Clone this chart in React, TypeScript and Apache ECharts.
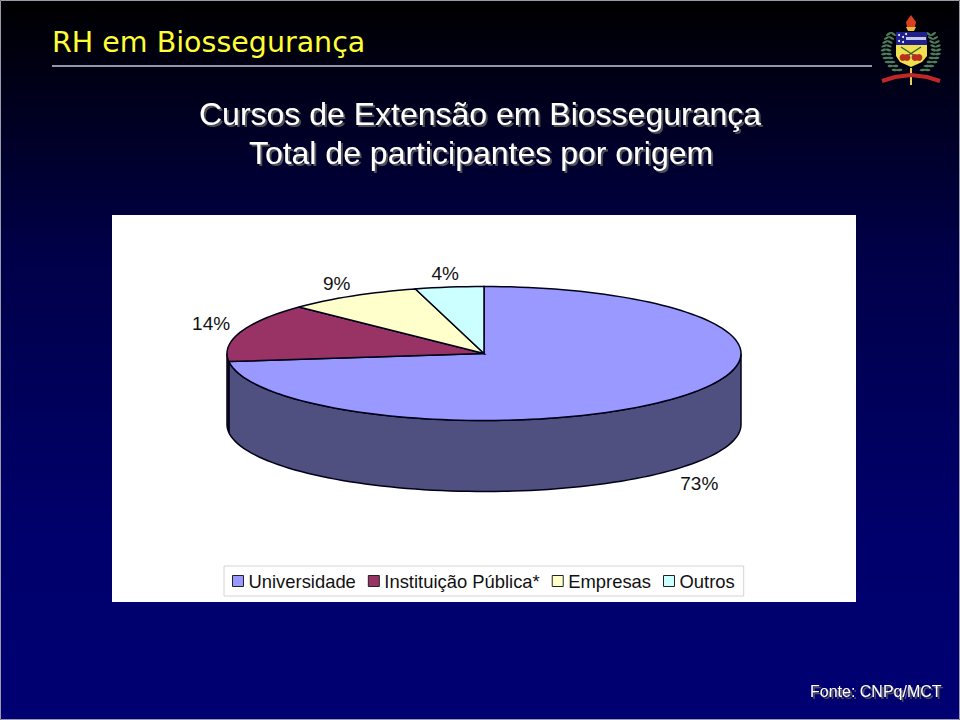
import React, { useEffect, useRef } from "react";
import * as echarts from "echarts";

const categories = ["Universidade", "Instituição Pública*", "Empresas", "Outros"];
const values = [73.1, 14.1, 8.5, 4.3];
const topColors = ["#9999FF", "#993366", "#FFFFCC", "#CCFFFF"];
const wallColors = ["#4F4F80", "#4D1A33", "#808066", "#668080"];
const headerLines = ["Cursos de Extensão em Biossegurança", "Total de participantes por origem"];
const pageTitle = "RH em Biossegurança";
const sourceNote = "Fonte: CNPq/MCT";

const CX = 484, CY = 353.5, RX = 257, RY = 67, DEPTH = 71;
const total = values.reduce((a, b) => a + b, 0);

function pt(deg: number, dy = 0): number[] {
  const r = (deg * Math.PI) / 180;
  return [CX + RX * Math.sin(r), CY - RY * Math.cos(r) + dy];
}

function arcPts(a: number, b: number, dy = 0): number[][] {
  const out: number[][] = [];
  const n = Math.max(2, Math.ceil(Math.abs(b - a) / 2));
  for (let i = 0; i <= n; i++) out.push(pt(a + ((b - a) * i) / n, dy));
  return out;
}

function sliceRenderer(index: number) {
  return (_params: any, api: any) => {
    const value = api.value(0) as number;
    const before = values.slice(0, index).reduce((a, b) => a + b, 0);
    const start = (before / total) * 360;
    const end = start + (value / total) * 360;
    const stroke = "#000018";
    const children: any[] = [];
    const wa = Math.max(start, 90), wb = Math.min(end, 270);
    if (wb > wa) {
      const pts = [...arcPts(wa, wb, 0), ...arcPts(wb, wa, DEPTH)];
      children.push({ type: "polygon", shape: { points: pts }, style: { fill: wallColors[index], stroke, lineWidth: 1.5 } });
    }
    children.push({
      type: "polygon",
      shape: { points: [[CX, CY], ...arcPts(start, end)] },
      style: { fill: topColors[index], stroke, lineWidth: 1.5 },
    });
    const mid = (start + end) / 2;
    const r = (mid * Math.PI) / 180;
    const front = Math.cos(r) < 0;
    const lx = CX + 1.12 * RX * Math.sin(r);
    const ly = CY - 1.12 * RY * Math.cos(r) + (front ? DEPTH + 9 : -6);
    children.push({
      type: "text",
      x: lx,
      y: ly,
      style: {
        text: `${Math.round((value / total) * 100)}%`,
        fill: "#111",
        font: '19px "Liberation Sans", Arial, sans-serif',
        align: "center",
        verticalAlign: "middle",
      },
    });
    return { type: "group", children };
  };
}

const laurelLeft = [
  [891, 34], [889, 38], [887.5, 42], [886.5, 46], [886, 50], [886.5, 54], [888, 58], [890, 62], [893, 66], [897, 70],
];

function crest(): any[] {
  const g: any[] = [];
  const leaf = "#4f7f5a";
  for (const side of [0, 1]) {
    laurelLeft.forEach(([lx, ly], i) => {
      const x = side === 0 ? lx : 2 * 911 - lx;
      const sign = side === 0 ? 1 : -1;
      const tilt = sign * (0.6 - i * 0.08);
      g.push({ type: "ellipse", x: x - 2.4, y: ly, rotation: tilt, shape: { cx: 0, cy: 0, rx: 3, ry: 1.2 }, style: { fill: leaf } });
      g.push({ type: "ellipse", x: x + 2.4, y: ly, rotation: -tilt, shape: { cx: 0, cy: 0, rx: 3, ry: 1.2 }, style: { fill: leaf } });
    });
  }
  g.push({ type: "polygon", shape: { points: [[896, 32], [927, 32], [927, 45], [896, 45]] }, style: { fill: "#20208c" } });
  g.push({ type: "rect", shape: { x: 906, y: 37, width: 20, height: 3 }, style: { fill: "#c8c8e0" } });
  for (const [sx, sy] of [[899, 35], [903, 37], [899, 41], [903, 42], [906, 34]]) {
    g.push({ type: "circle", shape: { cx: sx, cy: sy, r: 1 }, style: { fill: "#fff" } });
  }
  g.push({
    type: "polygon",
    shape: { points: [[896, 45], [927, 45], [927, 56], [922, 62], [911, 67], [900, 62], [896, 56]] },
    style: { fill: "#f0e050" },
  });
  g.push({ type: "line", shape: { x1: 901, y1: 47, x2: 921, y2: 60 }, style: { stroke: "#2f5f3a", lineWidth: 1.4 } });
  g.push({ type: "line", shape: { x1: 921, y1: 47, x2: 901, y2: 60 }, style: { stroke: "#2f5f3a", lineWidth: 1.4 } });
  for (const bx of [903, 907, 915, 919]) {
    g.push({ type: "circle", shape: { cx: bx, cy: 57.5, r: 3.4 }, style: { fill: "#b83020" } });
  }
  g.push({ type: "polygon", shape: { points: [[911, 15], [916, 22], [915, 27], [907, 27], [906, 22]] }, style: { fill: "#d84020" } });
  g.push({ type: "polygon", shape: { points: [[906, 27], [916, 27], [914, 31], [908, 31]] }, style: { fill: "#e8c040" } });
  g.push({ type: "rect", shape: { x: 910, y: 68, width: 2, height: 17 }, style: { fill: "#e8d060" } });
  g.push({
    type: "polyline",
    shape: { points: [[882, 81], [895, 77], [911, 75], [927, 77], [940, 81]] },
    style: { stroke: "#c02828", lineWidth: 4, fill: "none" },
  });
  return g;
}

export default function App() {
  const ref = useRef<HTMLDivElement>(null);
  useEffect(() => {
    document.body.style.margin = "0";
    const chart = echarts.init(ref.current!, undefined, { renderer: "svg" });
    const shadow = { textShadowColor: "rgba(90,90,90,0.9)", textShadowBlur: 1, textShadowOffsetX: 2, textShadowOffsetY: 2 };
    const arial = '"Liberation Sans", Arial, sans-serif';
    chart.setOption({
      animation: false,
      backgroundColor: new echarts.graphic.LinearGradient(0, 0, 0, 1, [
        { offset: 0, color: "#000000" },
        { offset: 0.35, color: "#000048" },
        { offset: 0.75, color: "#00006c" },
        { offset: 1, color: "#000072" },
      ]),
      title: [
        { text: pageTitle, left: 52, top: 28, textStyle: { color: "#FFFF33", fontFamily: "DejaVu Sans", fontSize: 28.5, fontWeight: "normal" }, padding: 0 },
        { text: headerLines[0], left: 480, top: 98, textAlign: "center", padding: 0, textStyle: { color: "#fff", fontFamily: arial, fontSize: 32, fontWeight: "normal", ...shadow } },
        { text: headerLines[1], left: 481, top: 137, textAlign: "center", padding: 0, textStyle: { color: "#fff", fontFamily: arial, fontSize: 32, fontWeight: "normal", ...shadow } },
        { text: sourceNote, left: 810, top: 683, padding: 0, textStyle: { color: "#fff", fontFamily: arial, fontSize: 16, fontWeight: "normal", ...shadow } },
      ],
      legend: {
        left: 224,
        top: 566,
        orient: "horizontal",
        data: categories,
        icon: "rect",
        itemWidth: 11,
        itemHeight: 11,
        itemGap: 12,
        padding: [6, 9, 6, 8],
        backgroundColor: "#fff",
        borderColor: "#d4d4d4",
        borderWidth: 1,
        selectedMode: false,
        itemStyle: { borderColor: "#222", borderWidth: 1 },
        textStyle: { color: "#111", fontFamily: arial, fontSize: 18.4 },
      },
      graphic: {
        elements: [
          { type: "rect", shape: { x: 0.5, y: 0.5, width: 959, height: 719 }, style: { fill: "none", stroke: "#9a9aa8", lineWidth: 1 } },
          { type: "line", shape: { x1: 52, y1: 66, x2: 872, y2: 66 }, style: { stroke: "#c8c8d8", lineWidth: 1.4 } },
          { type: "rect", shape: { x: 112, y: 215, width: 744, height: 387 }, style: { fill: "#fff" } },
          ...crest(),
        ],
      },
      series: categories.map((name, i) => ({
        type: "custom",
        name,
        coordinateSystem: "none",
        itemStyle: { color: topColors[i] },
        data: [[values[i]]],
        renderItem: sliceRenderer(i),
      })),
    });
    return () => chart.dispose();
  }, []);
  return <div ref={ref} style={{ width: 960, height: 720 }} />;
}
